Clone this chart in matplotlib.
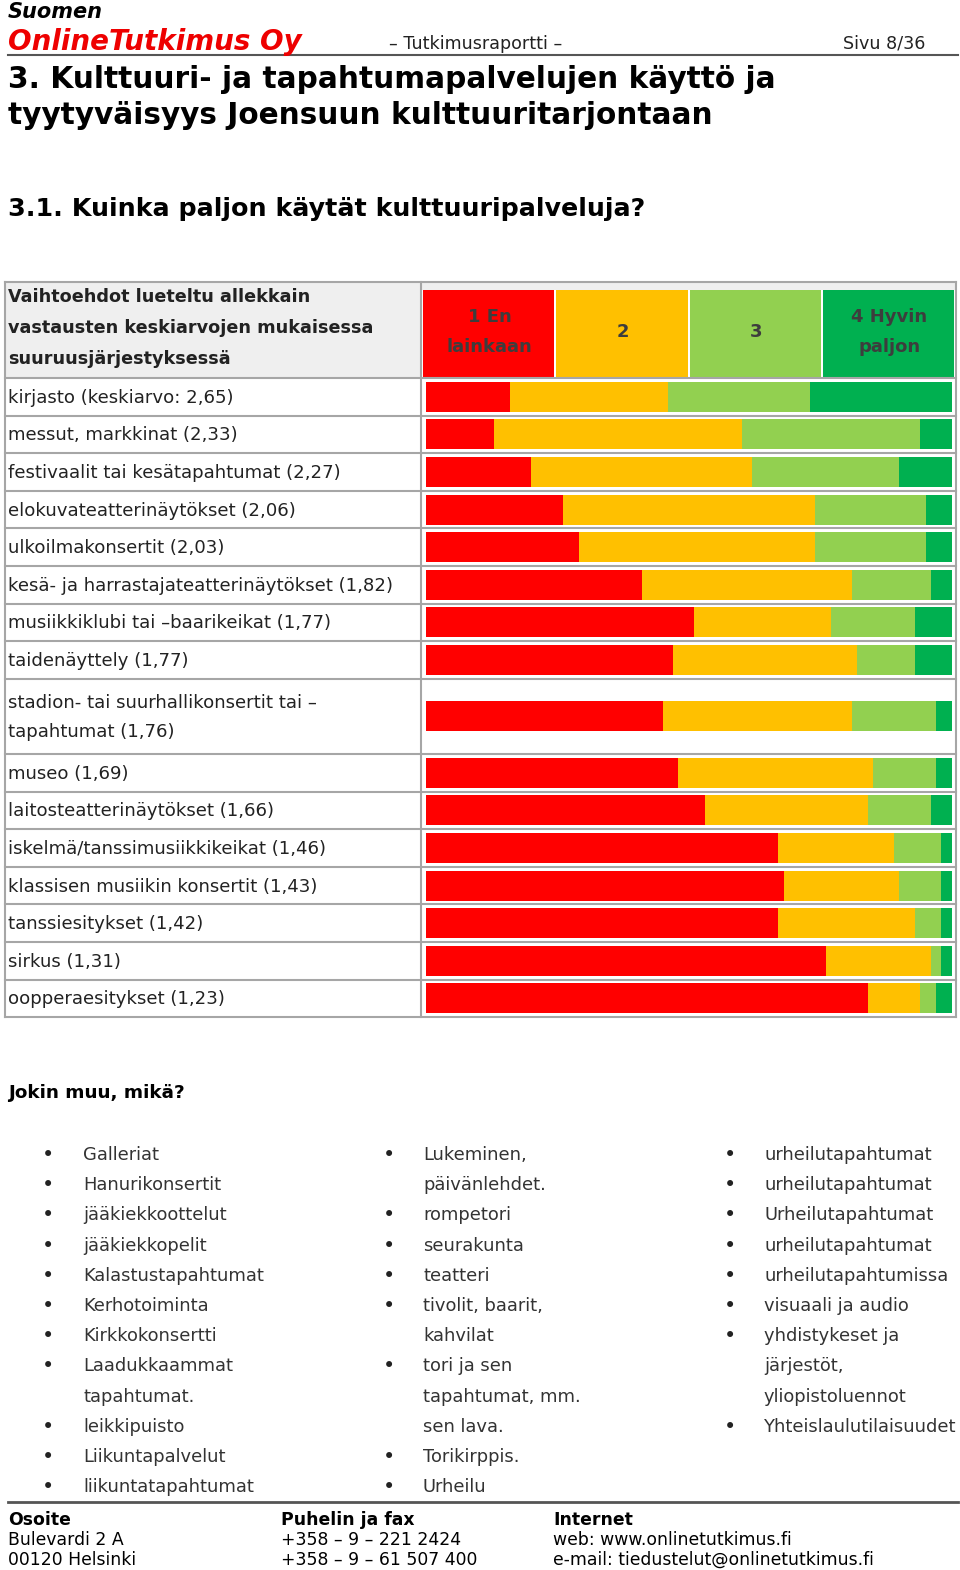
import matplotlib.pyplot as plt
from matplotlib.patches import Rectangle

# Data
categories = ["kirjasto (keskiarvo: 2,65)", "messut, markkinat (2,33)",
              "festivaalit tai kesätapahtumat (2,27)", "elokuvateatterinäytökset (2,06)",
              "ulkoilmakonsertit (2,03)", "kesä- ja harrastajateatterinäytökset (1,82)",
              "musiikkiklubi tai –baarikeikat (1,77)", "taidenäyttely (1,77)",
              "stadion- tai suurhallikonsertit tai –\ntapahtumat (1,76)", "museo (1,69)",
              "laitosteatterinäytökset (1,66)", "iskelmä/tanssimusiikkikeikat (1,46)",
              "klassisen musiikin konsertit (1,43)", "tanssiesitykset (1,42)",
              "sirkus (1,31)", "oopperaesitykset (1,23)"]
p1 = [16, 13, 20, 26, 29, 41, 51, 47, 45, 48, 53, 67, 68, 67, 76, 84]
p2 = [30, 47, 42, 48, 45, 40, 26, 35, 36, 37, 31, 22, 22, 26, 20, 10]
p3 = [27, 34, 28, 21, 21, 15, 16, 11, 16, 12, 12, 9, 8, 5, 2, 3]
p4 = [27, 6, 10, 5, 5, 4, 7, 7, 3, 3, 4, 2, 2, 2, 2, 3]
scale_labels = ["1 En\nlainkaan", "2", "3", "4 Hyvin\npaljon"]
colors = ["#ff0000", "#ffc000", "#92d050", "#00b050"]

other_col1 = [("Galleriat", True), ("Hanurikonsertit", True), ("jääkiekkoottelut", True),
              ("jääkiekkopelit", True), ("Kalastustapahtumat", True), ("Kerhotoiminta", True),
              ("Kirkkokonsertti", True), ("Laadukkaammat", True), ("tapahtumat.", False),
              ("leikkipuisto", True), ("Liikuntapalvelut", True), ("liikuntatapahtumat", True)]
other_col2 = [("Lukeminen,", True), ("päivänlehdet.", False), ("rompetori", True),
              ("seurakunta", True), ("teatteri", True), ("tivolit, baarit,", True),
              ("kahvilat", False), ("tori ja sen", True), ("tapahtumat, mm.", False),
              ("sen lava.", False), ("Torikirppis.", True), ("Urheilu", True)]
other_col3 = [("urheilutapahtumat", True), ("urheilutapahtumat", True), ("Urheilutapahtumat", True),
              ("urheilutapahtumat", True), ("urheilutapahtumissa", True), ("visuaali ja audio", True),
              ("yhdistykeset ja", True), ("järjestöt,", False), ("yliopistoluennot", False),
              ("Yhteislaulutilaisuudet", True)]

W, H = 960, 1570
fig = plt.figure(figsize=(W / 100, H / 100), dpi=100)
ax = fig.add_axes([0, 0, 1, 1])
ax.set_xlim(0, W)
ax.set_ylim(H, 0)
ax.axis("off")

dark = "#222222"
grid = "#a6a6a6"

# page header
ax.text(8, 12, "Suomen", fontsize=15, fontweight="bold", style="italic", va="center", color="black")
ax.text(8, 42, "OnlineTutkimus Oy", fontsize=20, fontweight="bold", style="italic", va="center", color="#ee0000")
ax.text(476, 44, "– Tutkimusraportti –", fontsize=12.6, ha="center", va="center", color=dark)
ax.text(925, 44, "Sivu 8/36", fontsize=12.6, ha="right", va="center", color=dark)
ax.plot([8, 958], [55, 55], color="#555555", lw=1.5)

ax.text(8, 80, "3. Kulttuuri- ja tapahtumapalvelujen käyttö ja", fontsize=21.3, fontweight="bold", va="center", color="black")
ax.text(8, 116, "tyytyväisyys Joensuun kulttuuritarjontaan", fontsize=21.3, fontweight="bold", va="center", color="black")
ax.text(8, 209, "3.1. Kuinka paljon käytät kulttuuripalveluja?", fontsize=18.3, fontweight="bold", va="center", color="black")

# table frame
x0, xm, x1 = 5, 421, 956
top, head_bot = 282, 378
row_h = 37.6
spans = [c.count("\n") + 1 for c in categories]
edges = [head_bot]
for s in spans:
    edges.append(edges[-1] + s * row_h)
bottom = edges[-1]
centers = [(edges[i] + edges[i + 1]) / 2 for i in range(len(categories))]

ax.add_patch(Rectangle((x0, top), xm - x0, head_bot - top, facecolor="#efefef", edgecolor="none"))
ax.add_patch(Rectangle((xm, top), x1 - xm, 8, facecolor="#efefef", edgecolor="none"))
ax.text(8, 328, "Vaihtoehdot lueteltu allekkain\nvastausten keskiarvojen mukaisessa\nsuuruusjärjestyksessä",
        fontsize=12.7, fontweight="bold", va="center", color=dark, linespacing=1.9)

cw = (x1 - xm - 2) / 4
for i, (lab, col) in enumerate(zip(scale_labels, colors)):
    cx = xm + 2 + i * cw
    ax.add_patch(Rectangle((cx, 290), cw - 2, head_bot - 290, facecolor=col, edgecolor="none"))
    ax.text(cx + cw / 2, 332, lab, fontsize=13, fontweight="bold", ha="center", va="center",
            color="#3d3d3d", linespacing=1.9)

for y in [top] + edges:
    ax.plot([x0, x1], [y, y], color=grid, lw=1.5)
for x in [x0, xm, x1]:
    ax.plot([x, x], [top, bottom], color=grid, lw=1.5)

for lab, yc in zip(categories, centers):
    ax.text(8, yc + 1, lab, fontsize=13.1, va="center", color=dark, linespacing=1.74)

# stacked bars
bx = fig.add_axes([426 / W, 1 - bottom / H, (952 - 426) / W, (bottom - head_bot) / H])
bx.set_xlim(0, 100)
bx.set_ylim(bottom, head_bot)
bx.axis("off")
left = [0] * len(categories)
for vals, col in zip([p1, p2, p3, p4], colors):
    bx.barh(centers, vals, left=left, height=30, color=col, edgecolor="none")
    left = [a + b for a, b in zip(left, vals)]

# other answers
ax.text(8, 1093, "Jokin muu, mikä?", fontsize=13.2, fontweight="bold", va="center", color="black")
line_gap = 30.2
for col_items, bx_, tx in [(other_col1, 48, 83), (other_col2, 389, 423), (other_col3, 730, 764)]:
    for j, (txt, bullet) in enumerate(col_items):
        y = 1155 + j * line_gap
        if bullet:
            ax.text(bx_, y, "•", fontsize=15, ha="center", va="center", color=dark)
        ax.text(tx, y, txt, fontsize=12.9, va="center", color="#333333")

# footer
ax.plot([8, 958], [1502, 1502], color="#555555", lw=2)
footer = [(8, "Osoite", "Bulevardi 2 A", "00120 Helsinki"),
          (281, "Puhelin ja fax", "+358 – 9 – 221 2424", "+358 – 9 – 61 507 400"),
          (553, "Internet", "web: www.onlinetutkimus.fi", "e-mail: tiedustelut@onlinetutkimus.fi")]
for fx, head, l1, l2 in footer:
    ax.text(fx, 1520, head, fontsize=12.4, fontweight="bold", va="center", color="black")
    ax.text(fx, 1540, l1, fontsize=12.4, va="center", color="black")
    ax.text(fx, 1560, l2, fontsize=12.4, va="center", color="black")

fig.savefig("out.png", dpi=100)
